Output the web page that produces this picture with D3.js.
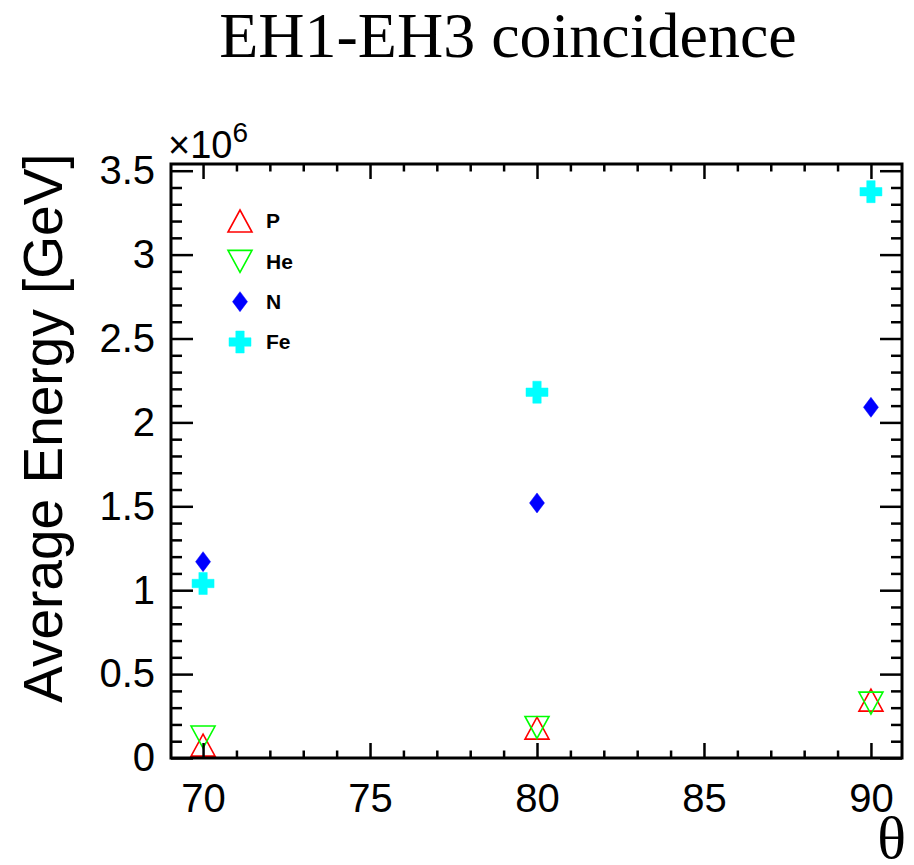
<!DOCTYPE html>
<html>
<head>
<meta charset="utf-8">
<script src="https://cdn.jsdelivr.net/npm/d3@7"></script>
<style>
  html, body { margin: 0; padding: 0; background: #fff; }
  svg { display: block; }
</style>
</head>
<body>
<svg id="chart" width="914" height="865"></svg>
<script>
// ---- data ----
const theta = [70, 80, 90];
const seriesNames = ["P", "He", "N", "Fe"];
const valuesP  = [77000, 178000, 345000];
const valuesHe = [125000, 182000, 327000];
const valuesN  = [1170000, 1520000, 2090000];
const valuesFe = [1040000, 2180000, 3375000];
const xMajorTicks = [70, 75, 80, 85, 90];
const yMajorTicks = [0, 0.5e6, 1e6, 1.5e6, 2e6, 2.5e6, 3e6, 3.5e6];

const series = [
  { name: "P",  values: valuesP,  color: "#ff0000", shape: "triUp" },
  { name: "He", values: valuesHe, color: "#00ff00", shape: "triDown" },
  { name: "N",  values: valuesN,  color: "#0000ff", shape: "diamond" },
  { name: "Fe", values: valuesFe, color: "#00ffff", shape: "cross" }
];

// ---- layout ----
const L = 171, R = 902, T = 164, B = 758;
const svg = d3.select("#chart");

const x = d3.scaleLinear().domain([69.04, 90.93]).range([L, R]);
const y = d3.scaleLinear().domain([0, 3.54e6]).range([B, T]);

const xMinor = d3.range(69, 91.01, 1).filter(v => v >= x.domain()[0] && v <= x.domain()[1] && !xMajorTicks.includes(v));
const yMinor = d3.range(0, 35.5, 1).map(v => v * 1e5).filter(v => v <= y.domain()[1] && !yMajorTicks.some(m => Math.abs(m - v) < 1));

// ---- marker shapes ----
function markerPath(shape) {
  const p = d3.path();
  if (shape === "triUp") {
    p.moveTo(0, -11); p.lineTo(12, 11); p.lineTo(-12, 11); p.closePath();
  } else if (shape === "triDown") {
    p.moveTo(0, 11); p.lineTo(12, -11); p.lineTo(-12, -11); p.closePath();
  } else if (shape === "diamond") {
    p.moveTo(0, -10); p.lineTo(7.5, 0); p.lineTo(0, 10); p.lineTo(-7.5, 0); p.closePath();
  } else if (shape === "cross") {
    const a = 11, w = 4.2;
    p.moveTo(-w, -a); p.lineTo(w, -a); p.lineTo(w, -w); p.lineTo(a, -w); p.lineTo(a, w);
    p.lineTo(w, w); p.lineTo(w, a); p.lineTo(-w, a); p.lineTo(-w, w); p.lineTo(-a, w);
    p.lineTo(-a, -w); p.lineTo(-w, -w); p.closePath();
  }
  return p.toString();
}
function styleMarker(sel, s) {
  const open = s.shape === "triUp" || s.shape === "triDown";
  sel.attr("d", markerPath(s.shape))
     .attr("fill", open ? "none" : s.color)
     .attr("stroke", s.color)
     .attr("stroke-width", open ? 1.6 : 0.5)
     .attr("stroke-linejoin", "miter");
}

// ---- points ----
const gPts = svg.append("g");
series.forEach(s => {
  gPts.selectAll(null).data(theta.map((t, i) => [t, s.values[i]]))
    .enter().append("path")
    .attr("transform", d => `translate(${x(d[0])},${y(d[1])})`)
    .call(sel => styleMarker(sel, s));
});

// ---- axes ----
const tickFont = "Liberation Sans, Arial, Helvetica, sans-serif";
function styleAxis(g) {
  g.selectAll(".tick line").attr("stroke", "#000").attr("stroke-width", 2.5);
  g.select(".domain").remove();
  g.selectAll("text").attr("fill", "#000").style("font-family", tickFont).style("font-size", "40px");
}
// bottom
svg.append("g").attr("transform", `translate(0,${B})`)
  .call(d3.axisBottom(x).tickValues(xMajorTicks).tickSize(-15).tickSizeOuter(0).tickPadding(26).tickFormat(d3.format("d")))
  .call(styleAxis);
svg.append("g").attr("transform", `translate(0,${B})`)
  .call(d3.axisBottom(x).tickValues(xMinor).tickSize(-7.5).tickSizeOuter(0).tickFormat(""))
  .call(styleAxis);
// top
svg.append("g").attr("transform", `translate(0,${T})`)
  .call(d3.axisTop(x).tickValues(xMajorTicks).tickSize(-15).tickSizeOuter(0).tickFormat(""))
  .call(styleAxis);
svg.append("g").attr("transform", `translate(0,${T})`)
  .call(d3.axisTop(x).tickValues(xMinor).tickSize(-7.5).tickSizeOuter(0).tickFormat(""))
  .call(styleAxis);
// left
svg.append("g").attr("transform", `translate(${L},0)`)
  .call(d3.axisLeft(y).tickValues(yMajorTicks).tickSize(-22).tickSizeOuter(0).tickPadding(16).tickFormat(d => d3.format("")(d / 1e6)))
  .call(styleAxis);
svg.append("g").attr("transform", `translate(${L},0)`)
  .call(d3.axisLeft(y).tickValues(yMinor).tickSize(-11).tickSizeOuter(0).tickFormat(""))
  .call(styleAxis);
// right
svg.append("g").attr("transform", `translate(${R},0)`)
  .call(d3.axisRight(y).tickValues(yMajorTicks).tickSize(-22).tickSizeOuter(0).tickFormat(""))
  .call(styleAxis);
svg.append("g").attr("transform", `translate(${R},0)`)
  .call(d3.axisRight(y).tickValues(yMinor).tickSize(-11).tickSizeOuter(0).tickFormat(""))
  .call(styleAxis);

// frame
svg.append("rect").attr("x", L).attr("y", T).attr("width", R - L).attr("height", B - T)
  .attr("fill", "none").attr("stroke", "#000").attr("stroke-width", 3);

// exponent label
const expo = svg.append("text").attr("x", 168).attr("y", 158)
  .style("font-family", tickFont).style("font-size", "38px").attr("fill", "#000");
expo.append("tspan").text("×10");
expo.append("tspan").attr("dy", -16).style("font-size", "28px").text("6");

// title
svg.append("text").attr("x", 508).attr("y", 57).attr("text-anchor", "middle")
  .style("font-family", "Liberation Serif, Times New Roman, serif").style("font-size", "64px")
  .attr("fill", "#000").text("EH1-EH3 coincidence");

// y title
svg.append("text").attr("transform", "translate(62,428) rotate(-90)").attr("text-anchor", "middle")
  .style("font-family", tickFont).style("font-size", "55px").attr("fill", "#000")
  .text("Average Energy [GeV]");

// x title
svg.append("text").attr("x", 906).attr("y", 858).attr("text-anchor", "end")
  .style("font-family", "Liberation Serif, Times New Roman, serif").style("font-size", "60px")
  .attr("fill", "#000").text("θ");

// legend
const legY = d3.scalePoint().domain(seriesNames).range([221, 342]);
const leg = svg.append("g");
series.forEach(s => {
  leg.append("path").attr("transform", `translate(240,${legY(s.name)})`).call(sel => styleMarker(sel, s));
  leg.append("text").attr("x", 266).attr("y", legY(s.name)).attr("dy", "0.35em")
    .style("font-family", tickFont).style("font-size", "21px").style("font-weight", "bold")
    .attr("fill", "#000").text(s.name);
});
</script>
</body>
</html>
